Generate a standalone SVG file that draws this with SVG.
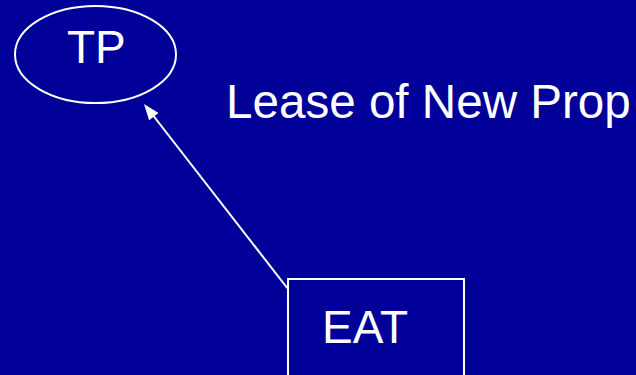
<svg xmlns="http://www.w3.org/2000/svg" width="636" height="375" viewBox="0 0 636 375">
<defs>
<style>
.t{font-family:"Liberation Sans",Arial,sans-serif;fill:#fff}
.s{fill:none;stroke:#fff;stroke-width:2}
</style>
</defs>
<rect width="636" height="375" fill="#000099"/>
<g id="connectors">
<line x1="288" y1="289" x2="152" y2="114" stroke="#fff" stroke-width="2"/>
<polygon points="144,104 158.5,112.9 149.1,120.3" fill="#fff"/>
</g>
<g id="TP">
<ellipse cx="95.5" cy="54.5" rx="80.5" ry="48.5" class="s"/>
<text x="67" y="63" class="t" font-size="46">TP</text>
</g>
<g id="EAT">
<rect x="288" y="279" width="176" height="110" class="s"/>
<text x="322" y="343" class="t" font-size="46">EAT</text>
</g>
<g id="label">
<text x="226" y="118" class="t" font-size="47.6">Lease of New Prop</text>
</g>
</svg>
